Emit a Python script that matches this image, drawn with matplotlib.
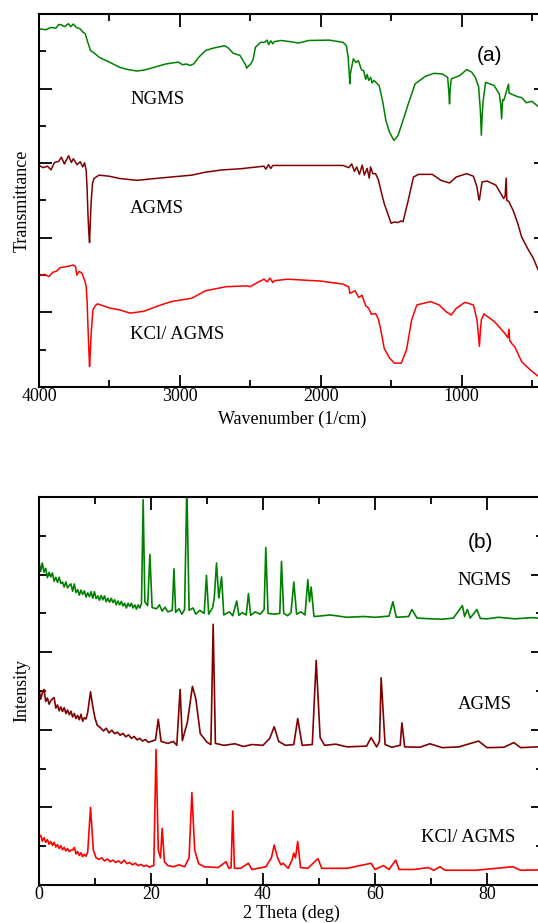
import numpy as np
import matplotlib
matplotlib.use("Agg")
import matplotlib.pyplot as plt
from matplotlib.ticker import MultipleLocator

# ---------------- FTIR data (wavenumber, transmittance in panel units) ----------------
ngms_ir_w = [4000, 3950, 3915, 3880, 3860, 3841, 3820, 3790, 3775, 3756, 3735, 3707, 3690,
             3671, 3660, 3650, 3634, 3600, 3573, 3540, 3500, 3427, 3380, 3305, 3250, 3183,
             3100, 3012, 2980, 2951, 2930, 2902, 2866, 2817, 2768, 2683, 2659, 2622, 2573,
             2537, 2524, 2510, 2500, 2480, 2463, 2427, 2400, 2380, 2370, 2354, 2340, 2330,
             2280, 2200, 2159, 2085, 1939, 1841, 1817, 1805, 1797, 1793, 1789, 1780, 1768,
             1750, 1732, 1710, 1695, 1680, 1670, 1659, 1645, 1635, 1622, 1585, 1561, 1537,
             1512, 1480, 1451, 1415, 1378, 1329, 1256, 1195, 1134, 1098, 1090, 1085, 1080,
             1073, 1012, 963, 927, 902, 878, 866, 859, 853, 846, 829, 768, 732, 722, 715,
             708, 700, 683, 666, 662, 650, 600, 573, 540, 500, 456, 400]
ngms_ir_t = [9.60, 9.58, 9.64, 9.62, 9.72, 9.71, 9.66, 9.74, 9.66, 9.73, 9.64, 9.60, 9.52,
             9.47, 9.32, 9.20, 9.02, 8.93, 8.84, 8.78, 8.71, 8.57, 8.52, 8.47, 8.50, 8.57,
             8.66, 8.71, 8.64, 8.66, 8.62, 8.66, 8.84, 9.02, 9.08, 9.15, 9.10, 8.95, 8.89,
             8.66, 8.55, 8.62, 8.64, 8.78, 9.11, 9.24, 9.24, 9.30, 9.18, 9.28, 9.20, 9.26,
             9.29, 9.25, 9.22, 9.29, 9.30, 9.24, 9.15, 8.84, 8.40, 8.13, 8.40, 8.57, 8.80,
             8.70, 8.75, 8.50, 8.48, 8.25, 8.38, 8.22, 8.30, 8.15, 8.22, 8.08, 7.68, 7.15,
             6.84, 6.61, 6.74, 7.15, 7.59, 8.13, 8.33, 8.41, 8.39, 8.30, 7.90, 7.59, 8.00,
             8.26, 8.35, 8.51, 8.44, 8.30, 8.04, 7.41, 6.75, 7.30, 7.68, 8.17, 8.08, 7.86,
             7.60, 7.19, 7.70, 7.68, 7.90, 8.12, 7.88, 7.86, 7.78, 7.76, 7.62, 7.66, 7.52, 7.35]

agms_ir_w = [4000, 3970, 3940, 3915, 3890, 3860, 3841, 3820, 3790, 3770, 3756, 3730, 3707,
             3690, 3676, 3665, 3659, 3652, 3646, 3641, 3636, 3629, 3620, 3610, 3573, 3500,
             3427, 3305, 3200, 3061, 2915, 2817, 2700, 2573, 2402, 2390, 2370, 2354, 2340,
             2280, 2100, 1950, 1841, 1800, 1780, 1760, 1744, 1725, 1705, 1690, 1670, 1655,
             1646, 1630, 1610, 1590, 1573, 1549, 1524, 1500, 1480, 1451, 1430, 1415, 1378,
             1341, 1305, 1207, 1146, 1085, 1037, 963, 915, 890, 880, 873, 866, 854, 817,
             756, 700, 690, 683, 678, 665, 634, 600, 573, 524, 490, 456, 400]
agms_ir_t = [5.94, 5.88, 5.92, 5.82, 6.02, 6.05, 6.16, 5.98, 6.20, 6.02, 6.12, 5.96, 6.04,
             5.90, 6.01, 5.80, 5.37, 4.60, 4.12, 3.87, 4.40, 5.00, 5.45, 5.59, 5.68, 5.65,
             5.59, 5.54, 5.58, 5.63, 5.68, 5.76, 5.82, 5.85, 5.92, 5.84, 5.96, 5.86, 5.94,
             5.94, 5.94, 5.94, 5.94, 5.88, 5.98, 5.78, 5.90, 5.70, 5.95, 5.68, 5.86, 5.60,
             5.90, 5.72, 5.72, 5.55, 5.28, 4.92, 4.65, 4.39, 4.42, 4.41, 4.45, 4.43, 5.01,
             5.63, 5.70, 5.70, 5.54, 5.47, 5.63, 5.72, 5.65, 5.36, 5.10, 5.01, 5.20, 5.50,
             5.52, 5.41, 5.05, 5.12, 5.60, 5.00, 4.98, 4.74, 4.38, 4.02, 3.67, 3.45, 3.14, 2.90]

kcl_ir_w = [4000, 3960, 3930, 3900, 3878, 3850, 3817, 3790, 3756, 3740, 3732, 3715, 3695,
            3676, 3665, 3659, 3652, 3646, 3641, 3636, 3629, 3617, 3600, 3585, 3500, 3420,
            3354, 3256, 3150, 3061, 2915, 2817, 2671, 2524, 2500, 2440, 2402, 2380, 2360,
            2340, 2329, 2232, 2000, 1841, 1800, 1793, 1756, 1730, 1707, 1680, 1659, 1640,
            1610, 1590, 1573, 1549, 1512, 1476, 1427, 1390, 1354, 1317, 1220, 1159, 1110,
            1073, 1037, 976, 915, 890, 880, 873, 866, 859, 841, 768, 695, 670, 663, 658,
            640, 622, 573, 512, 456, 400]
kcl_ir_t = [2.98, 3.02, 2.96, 3.08, 3.10, 3.20, 3.22, 3.24, 3.27, 3.22, 3.00, 3.10, 3.05,
            2.86, 2.70, 2.34, 1.60, 1.00, 0.55, 0.90, 1.46, 2.07, 2.18, 2.23, 2.12, 2.06,
            1.98, 2.03, 2.18, 2.29, 2.38, 2.58, 2.69, 2.71, 2.69, 2.82, 2.89, 2.82, 2.92,
            2.80, 2.85, 2.89, 2.84, 2.76, 2.68, 2.51, 2.58, 2.40, 2.46, 2.18, 2.11, 1.95,
            1.97, 1.82, 1.53, 1.04, 0.78, 0.64, 0.64, 1.00, 1.80, 2.20, 2.29, 2.20, 2.02,
            1.93, 2.11, 2.27, 2.20, 1.80, 1.40, 1.09, 1.50, 1.80, 1.96, 1.76, 1.45, 1.32,
            1.55, 1.25, 1.15, 1.08, 0.68, 0.46, 0.29, 0.10]

# ---------------- XRD data (2 theta, intensity in panel units) ----------------
ngms_x_t = [0.0, 0.3, 0.6, 0.9, 1.2, 1.5, 1.8, 2.1, 2.4, 2.7, 3.0, 3.3, 3.6, 3.9, 4.2,
            4.5, 4.8, 5.1, 5.4, 5.7, 6.0, 6.3, 6.6, 6.9, 7.2, 7.5, 7.8, 8.1, 8.4, 8.7,
            9.0, 9.3, 9.6, 9.9, 10.2, 10.5, 10.8, 11.1, 11.4, 11.7, 12.0, 12.3, 12.6, 12.9,
            13.2, 13.5, 13.8, 14.1, 14.4, 14.7, 15.0, 15.3, 15.6, 15.9, 16.2, 16.5, 16.8,
            17.1, 17.4, 17.7,
            18.0, 18.3, 18.6, 18.9, 19.4, 19.8, 20.2, 21.0, 21.5, 22.0, 22.5, 23.0, 23.8,
            24.1, 24.4, 25.0, 25.5, 26.0, 26.4, 26.8, 27.5, 28.0, 28.7, 29.5, 29.9, 30.3,
            31.0, 31.3, 31.7, 32.1, 32.3, 32.6, 33.0, 34.0, 34.6, 35.3, 35.7, 36.3, 37.0,
            37.4, 37.8, 38.6, 39.5, 40.2, 40.5, 40.9, 42.0, 43.0, 43.3, 43.7, 44.4, 45.0,
            45.5, 46.0, 46.8, 47.5, 48.0, 48.3, 48.6, 49.1, 50.0, 52.0, 55.0, 58.0, 60.0,
            62.5, 63.2, 63.8, 66.0, 66.6, 67.5, 70.0, 72.0, 74.0, 75.6, 76.0, 76.5, 77.0,
            78.2, 78.8, 80.0, 82.0, 85.0, 88.0, 90.0]
ngms_x_i = [8.34, 8.08, 8.30, 8.06, 8.16, 7.92, 8.06, 7.94, 8.04, 7.83, 7.93, 7.80, 7.93,
            7.77, 7.81, 7.68, 7.81, 7.66, 7.72, 7.76, 7.57, 7.76, 7.54, 7.61, 7.47, 7.60,
            7.49, 7.58, 7.42, 7.53, 7.43, 7.56, 7.39, 7.56, 7.38, 7.45, 7.34, 7.46, 7.35,
            7.45, 7.30, 7.39, 7.29, 7.39, 7.28, 7.35, 7.22, 7.32, 7.22, 7.31, 7.19, 7.26,
            7.14, 7.26, 7.18, 7.26, 7.14, 7.22, 7.11, 7.22,
            7.14, 7.25, 9.93, 7.30, 7.20, 8.52, 7.15, 7.12, 7.22, 7.06, 7.16, 7.04, 7.08,
            8.15, 7.03, 7.12, 6.98, 7.10, 10.3, 7.08, 7.14, 6.98, 7.08, 7.00, 7.98, 6.98,
            7.15, 7.40, 8.30, 7.40, 7.60, 7.94, 6.96, 7.04, 6.94, 7.32, 6.95, 7.02, 6.96,
            7.51, 6.95, 7.04, 6.98, 7.10, 8.70, 7.00, 6.98, 7.00, 8.34, 7.00, 6.94, 7.02,
            7.81, 6.98, 7.04, 6.96, 7.87, 7.30, 7.68, 6.92, 6.93, 6.96, 6.90, 6.92, 6.90,
            6.93, 7.30, 6.90, 6.92, 7.10, 6.88, 6.86, 6.85, 6.88, 7.20, 6.92, 7.10, 6.88,
            7.10, 6.87, 6.86, 6.90, 6.86, 6.89, 6.87]

agms_x_t = [0.0, 0.3, 0.6, 0.9, 1.2, 1.5, 1.8, 2.1, 2.4, 2.7, 3.0, 3.3, 3.6, 3.9, 4.2,
            4.5, 4.8, 5.1, 5.4, 5.7, 6.0, 6.3, 6.6, 6.9, 7.2, 7.5, 7.8, 8.1, 8.4, 8.7,
            9.2, 9.6, 10.0, 10.4, 11.0, 11.5, 12.0, 12.5, 13.0, 13.5, 14.0, 14.5, 15.0,
            15.5, 16.0, 16.5, 17.0, 17.5, 18.0, 18.5, 19.0, 19.5, 20.0, 20.8, 21.3, 21.8,
            23.0, 24.0, 24.6, 25.2, 25.6, 26.5, 27.4, 28.0, 28.8, 30.0, 30.7, 31.1, 31.5,
            33.0, 35.0, 36.5, 38.0, 40.0, 41.2, 42.0, 42.8, 44.0, 45.5, 46.2, 47.0, 48.8,
            49.5, 50.2, 51.0, 53.0, 55.0, 58.5, 59.3, 60.3, 60.8, 61.1, 61.4, 61.8, 63.0,
            64.5, 64.8, 65.3, 68.0, 69.8, 72.0, 75.0, 78.5, 80.0, 83.0, 84.8, 86.0, 89.0, 90.0]
agms_x_i = [5.05, 4.79, 4.95, 5.04, 4.73, 4.82, 4.66, 4.75, 4.80, 4.83, 4.56, 4.64, 4.49,
            4.59, 4.47, 4.57, 4.42, 4.51, 4.39, 4.48, 4.33, 4.42, 4.29, 4.37, 4.26, 4.40,
            4.22, 4.31, 4.28, 4.45,
            4.98, 4.60, 4.30, 4.12, 4.05, 3.97, 4.04, 3.92, 3.99, 3.90, 3.94, 3.86, 3.91,
            3.82, 3.87, 3.78, 3.83, 3.74, 3.78, 3.71, 3.75, 3.68, 3.70, 3.74, 4.27, 3.70,
            3.65, 3.70, 3.60, 5.04, 3.72, 4.20, 5.12, 4.80, 3.90, 3.68, 3.62, 6.72, 3.65,
            3.60, 3.64, 3.57, 3.62, 3.60, 3.78, 4.08, 3.70, 3.60, 3.62, 4.29, 3.60, 3.62,
            5.79, 3.80, 3.60, 3.63, 3.56, 3.58, 3.80, 3.56, 3.70, 5.34, 4.60, 3.62, 3.55,
            3.60, 4.18, 3.56, 3.55, 3.64, 3.54, 3.56, 3.71, 3.54, 3.55, 3.67, 3.54, 3.56, 3.56]

kcl_x_t = [0.0, 0.3, 0.6, 0.9, 1.2, 1.5, 1.8, 2.1, 2.4, 2.7, 3.0, 3.3, 3.6, 3.9, 4.2,
           4.5, 4.8, 5.1, 5.4, 5.7, 6.0, 6.3, 6.6, 6.9, 7.2, 7.5, 7.8, 8.1, 8.4, 8.7,
           9.2, 9.7, 10.2, 10.7, 11.2, 11.7, 12.2, 12.7, 13.2, 13.7, 14.2, 14.7, 15.2,
           15.7, 16.2, 16.7, 17.2, 17.7, 18.2, 18.7, 19.2, 19.7, 20.2, 20.5,
           20.9, 21.3, 21.7, 22.0, 22.4, 23.0, 24.0, 25.0, 26.0, 26.8, 27.3, 27.8,
           28.5, 29.5, 32.0, 33.4, 33.9, 34.3, 34.6, 34.9, 36.0, 37.4, 38.0, 40.5, 41.5,
           42.0, 42.6, 43.2, 43.6, 44.5, 45.2, 45.5, 45.8, 46.2, 46.7, 48.0, 49.8, 50.5,
           55.0, 59.3, 60.0, 61.5, 62.5, 63.7, 64.3, 67.0, 69.5, 70.5, 71.6, 72.5, 78.0,
           84.6, 86.0, 90.0]
kcl_x_i = [1.26, 1.28, 1.13, 1.22, 1.10, 1.17, 1.05, 1.12, 1.02, 1.10, 0.98, 1.04, 0.94,
           1.01, 0.91, 0.97, 0.88, 0.94, 0.86, 0.90, 0.90, 0.97, 0.80, 0.86, 0.76, 0.83,
           0.73, 0.79, 0.74, 0.85,
           2.00, 0.90, 0.70, 0.66, 0.70, 0.62, 0.67, 0.60, 0.64, 0.58, 0.62, 0.56, 0.64,
           0.55, 0.58, 0.52, 0.56, 0.50, 0.53, 0.48, 0.51, 0.46, 0.49, 0.50,
           3.49, 0.90, 0.70, 1.46, 0.60, 0.50, 0.47, 0.52, 0.47, 0.70, 2.38, 0.90,
           0.55, 0.47, 0.45, 0.60, 0.43, 0.45, 1.91, 0.43, 0.43, 0.56, 0.40, 0.47, 0.70,
           1.03, 0.70, 0.52, 0.56, 0.43, 0.65, 0.82, 0.70, 1.12, 0.45, 0.43, 0.68, 0.43,
           0.43, 0.56, 0.40, 0.50, 0.40, 0.64, 0.40, 0.40, 0.45, 0.38, 0.47, 0.38, 0.38,
           0.47, 0.38, 0.39]

GREEN = "#008000"
MAROON = "#800000"
RED = "#ff0000"
SERIF = ["Liberation Serif", "DejaVu Serif"]
SANS = ["Liberation Sans", "DejaVu Sans"]

plt.rcParams['font.family'] = SERIF

fig = plt.figure(figsize=(5.38, 9.23), dpi=100)
ax1 = fig.add_axes([39 / 538, (923 - 387) / 923, 507 / 538, 373 / 923])
ax2 = fig.add_axes([39 / 538, (923 - 885) / 923, 504 / 538, 388 / 923])


def style(ax):
    for s in ax.spines.values():
        s.set_linewidth(1.5)
    ax.set_ylim(0, 10)
    ax.yaxis.set_major_locator(MultipleLocator(2))
    ax.yaxis.set_minor_locator(MultipleLocator(1))
    ax.tick_params(which="both", direction="in", top=True, right=True,
                   labelleft=False, width=1.3, labelsize=13, pad=1)
    ax.tick_params(which="major", length=9)
    ax.tick_params(which="minor", length=5)


# ---- (a) FTIR ----
ax1.plot(ngms_ir_w, ngms_ir_t, color=GREEN, lw=1.1)
ax1.plot(agms_ir_w, agms_ir_t, color=MAROON, lw=1.1)
ax1.plot(kcl_ir_w, kcl_ir_t, color=RED, lw=1.1)
ax1.set_xlim(4000, 400)
ax1.xaxis.set_major_locator(MultipleLocator(1000))
ax1.xaxis.set_minor_locator(MultipleLocator(500))
style(ax1)
ax1.set_xlabel("Wavenumber (1/cm)", fontsize=13, labelpad=4)
ax1.set_ylabel("Transmittance", fontsize=13, labelpad=6)
ax1.text(3354, 7.7, "NGMS", fontsize=13.5, va="center")
ax1.text(3354, 4.79, "AGMS", fontsize=13.5, va="center")
ax1.text(3354, 1.40, "KCl/ AGMS", fontsize=13.5, va="center")
ax1.text(800, 8.9, "(a)", fontsize=15, ha="center", va="center", family=SANS)

# ---- (b) XRD ----
ax2.plot(ngms_x_t, ngms_x_i, color=GREEN, lw=1.2)
ax2.plot(agms_x_t, agms_x_i, color=MAROON, lw=1.2)
ax2.plot(kcl_x_t, kcl_x_i, color=RED, lw=1.2)
ax2.set_xlim(0, 90)
ax2.xaxis.set_major_locator(MultipleLocator(20))
ax2.xaxis.set_minor_locator(MultipleLocator(10))
style(ax2)
ax2.set_xlabel("2 Theta (deg)", fontsize=13, labelpad=1)
ax2.set_ylabel("Intensity", fontsize=13, labelpad=6)
ax2.text(84.4, 7.84, "NGMS", fontsize=13.5, ha="right", va="center")
ax2.text(84.4, 4.66, "AGMS", fontsize=13.5, ha="right", va="center")
ax2.text(85.0, 1.23, "KCl/ AGMS", fontsize=13.5, ha="right", va="center")
ax2.text(78.8, 8.82, "(b)", fontsize=15, ha="center", va="center", family=SANS)

fig.savefig("out.png", dpi=100)
